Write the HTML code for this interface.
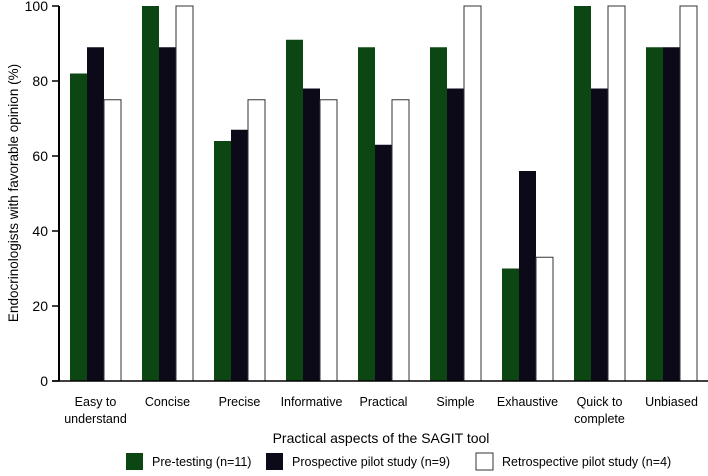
<!DOCTYPE html>
<html><head><meta charset="utf-8"><style>
body{margin:0;background:#fff;}
svg{display:block;font-family:"Liberation Sans",sans-serif;}
</style></head><body>
<svg id="chart" width="708" height="476">
<g id="plot"></g>
</svg>
<script>
const categories = [["Easy to","understand"],["Concise"],["Precise"],["Informative"],["Practical"],["Simple"],["Exhaustive"],["Quick to","complete"],["Unbiased"]];
const preTesting = [82,100,64,91,89,89,30,100,89];
const prospective = [89,89,67,78,63,78,56,78,89];
const retrospective = [75,100,75,75,75,100,33,100,100];
const yTicks = [0,20,40,60,80,100];
const seriesNames = ["Pre-testing (n=11)","Prospective pilot study (n=9)","Retrospective pilot study (n=4)"];

const NS="http://www.w3.org/2000/svg";
const g=document.getElementById('plot');
const x0=59, yTop=6, yBot=381, step=72, first=95.5, bw=17;
const y=v=>yBot-(v/100)*(yBot-yTop);
const xc=i=>first+i*step;
function mk(t,a){const e=document.createElementNS(NS,t);for(const k in a)e.setAttribute(k,a[k]);g.appendChild(e);return e;}
const series=[preTesting,prospective,retrospective];
const fills=["#0b4613","#0c0918","#ffffff"];
const sn=["pre-testing","prospective","retrospective"];
series.forEach((arr,s)=>{arr.forEach((v,i)=>{
  const r=mk('rect',{x:xc(i)-1.5*bw+s*bw,y:y(v),width:bw,height:y(0)-y(v),fill:fills[s],stroke:s==2?"#333":"none","stroke-width":1});
  
  
});});
const ax=mk('line',{x1:x0,y1:yTop,x2:x0,y2:yBot,stroke:"#000","stroke-width":2});

const xa=mk('line',{x1:52,y1:yBot,x2:708,y2:yBot,stroke:"#000","stroke-width":1.5});

yTicks.forEach(t=>{
  mk('line',{x1:52,y1:y(t),x2:x0,y2:y(t),stroke:"#000","stroke-width":1.5});
  const tx=mk('text',{x:48,y:y(t)+5,"text-anchor":"end","font-size":14});tx.textContent=t;
  
});
categories.forEach((c,i)=>{
  c.forEach((line,j)=>{
    const tx=mk('text',{x:xc(i),y:406+j*17,"text-anchor":"middle","font-size":12.5});tx.textContent=line;
    
  });
});
const xt=mk('text',{x:381,y:443,"text-anchor":"middle","font-size":14});xt.textContent="Practical aspects of the SAGIT tool";

const yt=mk('text',{x:0,y:0,"text-anchor":"middle","font-size":13.5,transform:"translate(18,193) rotate(-90)"});yt.textContent="Endocrinologists with favorable opinion (%)";

const lx=[126,266,476];
seriesNames.forEach((n,s)=>{
  const r=mk('rect',{x:lx[s],y:453,width:17,height:17,fill:fills[s],stroke:s==2?"#333":"none"});
  
  const t=mk('text',{x:lx[s]+26,y:466,"font-size":12.5});t.textContent=n;
  
});
</script>
</body></html>
